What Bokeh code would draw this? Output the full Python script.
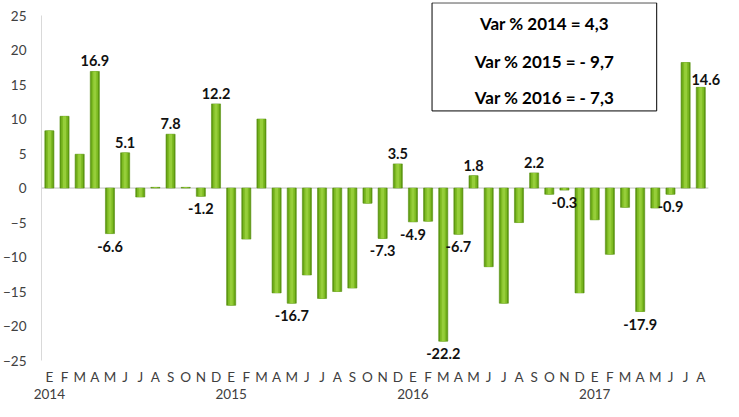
from bokeh.plotting import figure
from bokeh.models import ColumnDataSource, Range1d, FixedTicker, LinearAxis, Label
from bokeh.core.properties import value
from bokeh.embed import file_html
from bokeh.resources import INLINE

months = ["E", "F", "M", "A", "M", "J", "J", "A", "S", "O", "N", "D"]
years = ["2014", "2015", "2016", "2017"]

v2014 = [8.3, 10.4, 4.9, 16.9, -6.6, 5.1, -1.3, 0.1, 7.8, 0.1, -1.2, 12.2]
v2015 = [-17.0, -7.4, 10.0, -15.2, -16.7, -12.6, -16.0, -15.0, -14.5, -2.2, -7.3, 3.5]
v2016 = [-4.9, -4.8, -22.2, -6.7, 1.8, -11.4, -16.7, -5.0, 2.2, -0.9, -0.3, -15.2]
v2017 = [-4.6, -9.6, -2.8, -17.9, -2.9, -0.9, 18.2, 14.6]

labelled = [3, 4, 5, 8, 10, 11, 16, 22, 23, 24, 26, 27, 28, 32, 34, 39, 41, 43]

box_lines = ["Var % 2014 = 4,3", "Var % 2015 = - 9,7", "Var % 2016 = - 7,3"]

vals = v2014 + v2015 + v2016 + v2017
n = len(vals)
xs = list(range(n))

month_labels = {i: months[i % 12] for i in xs}
year_ticks = [i for i in xs if i % 12 == 0]
year_labels = {i: years[i // 12] for i in year_ticks}

FONT = "Lato"

p = figure(width=723, height=401, output_backend="svg", toolbar_location=None,
           x_range=Range1d(-0.52, 44.5), y_range=Range1d(-25, 26.9),
           min_border_left=32, min_border_right=0, min_border_top=2,
           min_border_bottom=0, x_axis_type=None)
p.outline_line_color = None
p.grid.visible = False
p.background_fill_color = "white"
p.border_fill_color = "white"

# y axis
ya = p.yaxis[0]
ya.ticker = FixedTicker(ticks=[-25, -20, -15, -10, -5, 0, 5, 10, 15, 20, 25])
ya.bounds = (-25, 25)
ya.axis_line_color = "#D9D9D9"
ya.major_tick_line_color = None
ya.minor_tick_line_color = None
ya.major_label_text_font = FONT
ya.major_label_text_font_size = "13.5px"
ya.major_label_text_color = "#404040"
ya.major_label_standoff = 9


def style_x(ax, standoff):
    ax.axis_line_color = None
    ax.major_tick_line_color = None
    ax.minor_tick_line_color = None
    ax.major_tick_out = 0
    ax.major_tick_in = 0
    ax.major_label_text_font = FONT
    ax.major_label_text_font_size = "13.5px"
    ax.major_label_text_color = "#404040"
    ax.major_label_standoff = standoff


xa = LinearAxis(ticker=FixedTicker(ticks=xs), major_label_overrides=month_labels)
style_x(xa, 8)
p.add_layout(xa, "below")
ya2 = LinearAxis(ticker=FixedTicker(ticks=year_ticks), major_label_overrides=year_labels)
style_x(ya2, 1)
p.add_layout(ya2, "below")

src = ColumnDataSource(dict(x=xs, top=vals))

# zero line
p.segment(x0=[-0.52], y0=[0], x1=[43.5], y1=[0], line_color="#BFBFBF", line_width=1)

# bars (layered for a cylinder look)
p.vbar(x="x", top="top", bottom=0, width=0.6, source=src,
       fill_color="#5F9B12", line_color="#588F10", line_width=0.6)
p.vbar(x="x", top="top", bottom=0, width=0.42, source=src,
       fill_color="#7DBA22", line_color=None)
p.vbar(x="x", top="top", bottom=0, width=0.2, source=src,
       fill_color="#96CE3A", line_color=None)

# data labels
last = n - 1
pos_x, pos_y, pos_t = [], [], []
neg_x, neg_y, neg_t = [], [], []
for i in labelled:
    v = vals[i]
    if i == last:
        continue
    if v >= 0:
        pos_x.append(i); pos_y.append(v); pos_t.append(f"{v:.1f}")
    else:
        neg_x.append(i); neg_y.append(v); neg_t.append(f"{v:.1f}")

p.text(x=pos_x, y=pos_y, text=pos_t, text_font=value(FONT),
       text_font_style="bold", text_font_size="14.5px", text_color="#111111",
       text_align="center", text_baseline="bottom", y_offset=-5)
p.text(x=neg_x, y=neg_y, text=neg_t, text_font=value(FONT),
       text_font_style="bold", text_font_size="14.5px", text_color="#111111",
       text_align="center", text_baseline="top", y_offset=7)
p.add_layout(Label(x=last, y=vals[last], text=f"{vals[last]:.1f}", text_font=FONT,
                   text_font_style="bold", text_font_size="14.5px", text_color="#111111",
                   text_align="center", text_baseline="bottom", x_offset=5, y_offset=2))

# info box
p.quad(left=[25.26], right=[40.09], top=[26.85], bottom=[11.18],
       fill_color="white", line_color="#000000", line_width=1)
p.text(x=[32.68] * 3, y=[23.9, 18.4, 13.2], text=box_lines,
       text_font=value(FONT), text_font_style="bold", text_font_size="17px",
       text_color="#000000", text_align="center", text_baseline="middle")

open("out.html", "w").write(file_html(p, INLINE))
